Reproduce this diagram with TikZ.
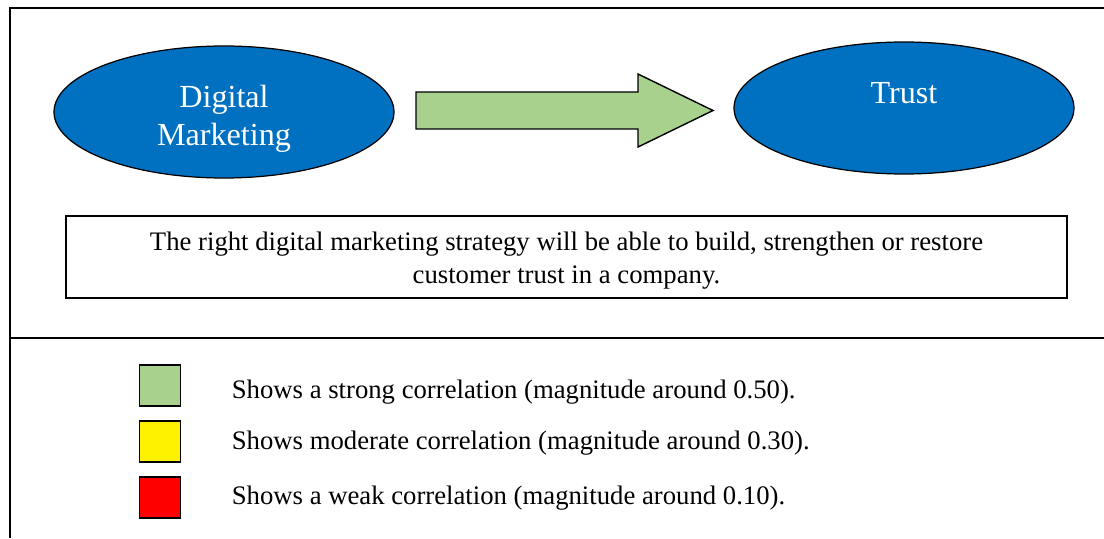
\documentclass[tikz,border=0pt]{standalone}
\usepackage{fontspec}
\setmainfont{Liberation Serif}
\usetikzlibrary{shapes.geometric}
\definecolor{ovalblue}{HTML}{0070C0}
\definecolor{arrowgreen}{HTML}{A9D18E}

\tikzset{
    oval/.style={ellipse, draw, line width=0.7pt, fill=ovalblue,
        minimum width=6.8cm, minimum height=2.64cm, inner sep=0pt},
    ovaltext/.style={text=white, align=center, font=\fontsize{18.3}{21.5}\selectfont},
    notetext/.style={align=center, font=\fontsize{15.2}{18.6}\selectfont},
    keybox/.style={draw, line width=1pt, minimum size=0.82cm, inner sep=0pt},
    keytext/.style={anchor=west, inner sep=0pt, font=\fontsize{15.2}{18.6}\selectfont}
}

\begin{document}
\begin{tikzpicture}
    \useasboundingbox (0, 0) rectangle (22.08, 10.76);
    % outer frame
    \draw[line width=1pt] (0.2, 0) -- (0.2, 10.6) -- (22.08, 10.6);
    \draw[line width=1pt] (0.2, 4.0) -- (22.08, 4.0);

    % ovals
    \node[oval] (dm) at (4.48, 8.52) {};
    \node[ovaltext] (dmlabel) at ([yshift=-0.14cm]dm.center) {Digital\\Marketing};
    \node[oval] (trust) at (18.08, 8.6) {};
    \node[ovaltext] (trustlabel) at ([yshift=0.3cm]trust.center) {Trust};

    % block arrow
    \draw[line width=0.8pt, fill=arrowgreen] (8.32, 8.18) -- (8.32, 8.92) -- (12.76, 8.92) -- (12.76, 9.28)
        -- (14.26, 8.55) -- (12.76, 7.82) -- (12.76, 8.18) -- cycle;

    % note
    \node[draw, line width=1pt, minimum width=20.02cm, minimum height=1.64cm] (note) at (11.33, 5.62) {};
    \node[notetext] (notelabel) at ([yshift=-0.07cm]note.center)
        {The right digital marketing strategy will be able to build, strengthen or restore\\customer trust in a company.};

    % legend
    \foreach \i/\c/\y/\ty/\t in {1/arrowgreen/3.05/2.91/Shows a strong correlation (magnitude around 0.50).,
                                 2/yellow/1.93/1.89/Shows moderate correlation (magnitude around 0.30).,
                                 3/red/0.81/0.79/Shows a weak correlation (magnitude around 0.10).} {
        \node[keybox, fill=\c] (key\i) at (3.2, \y) {};
        \node[keytext] (keytext\i) at (4.63, \ty) {\t};
    }
\end{tikzpicture}
\end{document}
